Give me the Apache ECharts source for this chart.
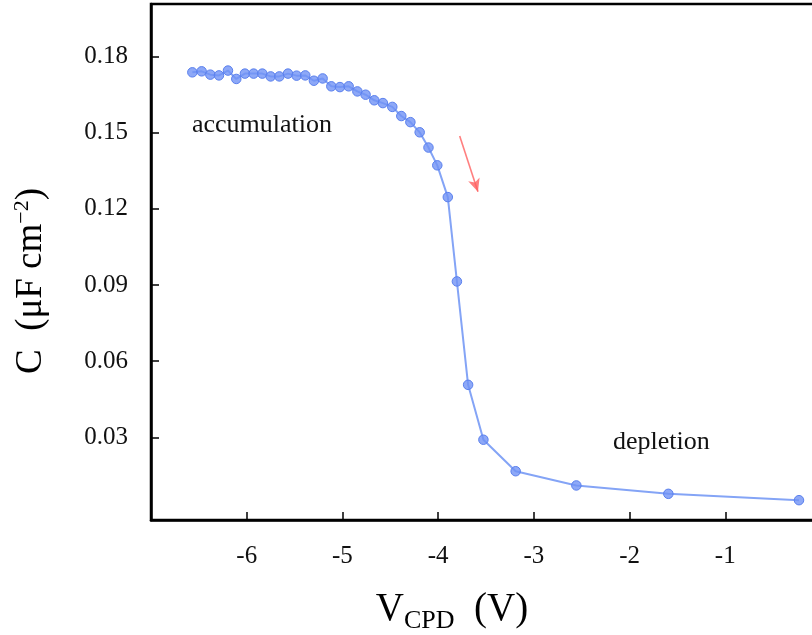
<!DOCTYPE html>
<html>
<head>
<meta charset="utf-8">
<script src="https://cdn.jsdelivr.net/npm/echarts@6/dist/echarts.min.js"></script>
<style>
  html, body { margin: 0; padding: 0; background: #fff; }
  #chart { width: 812px; height: 635px; }
</style>
</head>
<body>
<div id="chart"></div>
<script>
// Contact-potential-difference voltage (V) and capacitance (µF cm^-2)
const vcpd = [-6.568, -6.471, -6.380, -6.290, -6.196, -6.109, -6.019, -5.928, -5.837, -5.750,
              -5.659, -5.569, -5.479, -5.388, -5.298, -5.207, -5.116, -5.026, -4.935, -4.844,
              -4.758, -4.667, -4.577, -4.479, -4.385, -4.290, -4.193, -4.101, -4.009, -3.899,
              -3.804, -3.687, -3.527, -3.190, -2.556, -1.595, -0.230];
const capacitance = [0.1737, 0.1741, 0.1728, 0.1725, 0.1744, 0.1711, 0.1732, 0.1732, 0.1732, 0.1721,
                     0.1721, 0.1732, 0.1724, 0.1725, 0.1704, 0.1713, 0.1682, 0.1679, 0.1682, 0.1662,
                     0.1649, 0.1627, 0.1616, 0.1601, 0.1565, 0.1541, 0.1501, 0.1441, 0.1371, 0.1246,
                     0.0914, 0.0507, 0.0291, 0.0167, 0.0111, 0.0078, 0.0053];
const xTicks = [-6, -5, -4, -3, -2, -1];
const yTicks = [0.03, 0.06, 0.09, 0.12, 0.15, 0.18];
// sweep-direction arrow, start and end in data units
const sweepArrow = [[-3.775, 0.1486], [-3.584, 0.1267]];

const serif = '"Liberation Serif", "Times New Roman", serif';
const points = vcpd.map((v, i) => [v, capacitance[i]]);

const chart = echarts.init(document.getElementById('chart'), null, { renderer: 'canvas' });
chart.setOption({
  animation: false,
  backgroundColor: '#ffffff',
  grid: {
    left: 151, top: 4, right: -9, bottom: 115,
    outerBoundsMode: 'none', containLabel: false,
    show: true, borderColor: '#000', borderWidth: 2.5, backgroundColor: 'transparent'
  },
  xAxis: {
    type: 'value', min: -7, max: 0,
    axisLine: { show: true, onZero: false, lineStyle: { color: '#000', width: 2.5 } },
    axisTick: { show: true, inside: true, length: 8, lineStyle: { color: '#000', width: 1.5 }, customValues: xTicks },
    axisLabel: { show: true, customValues: xTicks, margin: 24, color: '#111', fontFamily: serif, fontSize: 25 },
    splitLine: { show: false }
  },
  yAxis: {
    type: 'value', min: -0.0025, max: 0.2006,
    axisLine: { show: true, onZero: false, lineStyle: { color: '#000', width: 2.5 } },
    axisTick: { show: true, inside: true, length: 8, lineStyle: { color: '#000', width: 1.5 }, customValues: yTicks },
    axisLabel: { show: true, customValues: yTicks, margin: 23, color: '#111', fontFamily: serif, fontSize: 25,
                 formatter: v => v.toFixed(2) },
    splitLine: { show: false }
  },
  series: [
    {
      type: 'line',
      data: points,
      symbol: 'circle',
      symbolSize: 9.5,
      lineStyle: { color: '#84a4f6', width: 2 },
      itemStyle: { color: 'rgba(112,146,245,0.8)', borderColor: '#5a80ee', borderWidth: 1 },
      z: 3
    },
    {
      type: 'line',
      data: [],
      silent: true,
      markLine: {
        silent: true,
        symbol: ['none', 'arrow'],
        symbolSize: [9, 13],
        label: { show: false },
        lineStyle: { color: 'rgba(255,95,95,0.8)', width: 1.6, type: 'solid' },
        data: [[{ coord: sweepArrow[0] }, { coord: sweepArrow[1] }]]
      }
    }
  ],
  graphic: [
    {
      type: 'text', left: 192, top: 112,
      style: { text: 'accumulation', fill: '#111', font: '26px ' + serif }
    },
    {
      type: 'text', left: 613, top: 429,
      style: { text: 'depletion', fill: '#111', font: '26px ' + serif }
    },
    {
      type: 'text', x: 31, y: 281, rotation: Math.PI / 2,
      style: {
        text: '{m|C  (μF cm}{s|−2}{m|)}',
        align: 'center', verticalAlign: 'middle',
        rich: {
          m: { fontFamily: serif, fontSize: 37, color: '#111' },
          s: { fontFamily: serif, fontSize: 22, color: '#111', verticalAlign: 'top', padding: [0, 0, 18, 0] }
        }
      }
    },
    {
      type: 'text', x: 452, y: 610,
      style: {
        text: '{m|V}{s|CPD}{m|  (V)}',
        align: 'center', verticalAlign: 'middle',
        rich: {
          m: { fontFamily: serif, fontSize: 39, color: '#111' },
          s: { fontFamily: serif, fontSize: 26, color: '#111', verticalAlign: 'bottom', padding: [22, 0, 0, 0] }
        }
      }
    }
  ]
});
</script>
</body>
</html>
